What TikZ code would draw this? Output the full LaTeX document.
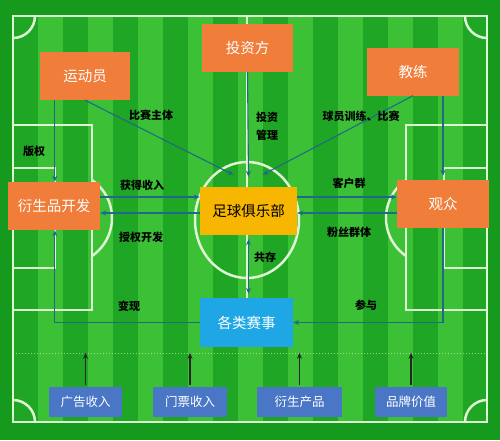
\documentclass[tikz,border=0pt]{standalone}
\usepackage{fontspec}
\newfontfamily\cjk{Noto Sans CJK SC}
\usetikzlibrary{calc,arrows.meta}
\definecolor{fieldA}{HTML}{1FA624}
\definecolor{fieldB}{HTML}{3CC036}
\definecolor{outergreen}{HTML}{169A1E}
\definecolor{chalk}{HTML}{DDF5D2}
\definecolor{orangefill}{HTML}{F07D3A}
\definecolor{goldfill}{HTML}{F7B600}
\definecolor{skyfill}{HTML}{1EA7E4}
\definecolor{bluefill}{HTML}{4A76C6}
\definecolor{linkcol}{HTML}{1F6A88}
\begin{document}
\begin{tikzpicture}[x=1pt,y=-1pt,
  chalkline/.style={draw=chalk,line width=2.5pt},
  obox/.style={fill=orangefill,text=white,inner sep=0pt,minimum height=48pt,font=\cjk\fontsize{14.5}{16}\selectfont},
  gbox/.style={fill=goldfill,text=black,inner sep=0pt,minimum height=48pt,font=\cjk\fontsize{14.5}{16}\selectfont},
  sbox/.style={fill=skyfill,text=white,inner sep=0pt,minimum height=49pt,font=\cjk\fontsize{14.5}{16}\selectfont},
  bluebtn/.style={fill=bluefill,text=white,inner sep=0pt,minimum height=30pt,font=\cjk\fontsize{12.5}{14}\selectfont},
  lbl/.style={text=black,inner sep=0pt,font=\cjk\bfseries\fontsize{11}{12}\selectfont},
  arr/.style={draw=linkcol,line width=1.1pt,-{Stealth[length=6pt,width=5pt]}},
  dblarr/.style={draw=linkcol,line width=1.1pt,{Stealth[length=6pt,width=5pt]}-{Stealth[length=6pt,width=5pt]}},
  barr/.style={draw=black!85,line width=1.2pt,-{Stealth[length=6pt,width=5pt]}}
]
\useasboundingbox (0,0) rectangle (500,440);
\fill[outergreen] (0,0) rectangle (500,440);
% stripes
\begin{scope}
\clip (13,16) rectangle (487,422);
\foreach \i in {0,...,18}{
  \ifodd\i\def\sc{fieldB}\else\def\sc{fieldA}\fi
  \fill[\sc] ({13+25*\i},16) rectangle ({13+25*(\i+1)},422);
}
\end{scope}
% field markings
\draw[chalkline] (13,16) rectangle (487,422);
\draw[chalkline] (247,16) -- (247,298);
\draw[chalkline] (247,220) ellipse [x radius=52, y radius=58];
\draw[chalkline] (13,125) rectangle (92,310);
\draw[chalkline] (13,168) rectangle (55,268);
\draw[chalkline] (406,125) rectangle (487,310);
\draw[chalkline] (444,168) rectangle (487,268);
\begin{scope}
\clip (92,100) rectangle (200,330);
\draw[chalkline] (66,218) circle [radius=46];
\end{scope}
\begin{scope}
\clip (300,100) rectangle (406,330);
\draw[chalkline] (432,218) circle [radius=46];
\end{scope}
\begin{scope}
\clip (13,16) rectangle (487,422);
\draw[chalkline] (13,16) circle [radius=22];
\draw[chalkline] (487,16) circle [radius=22];
\draw[chalkline] (13,422) circle [radius=22];
\draw[chalkline] (487,422) circle [radius=22];
\end{scope}
\draw[chalk,dotted,line width=1pt,opacity=.6] (13,353) -- (487,353);
% nodes
\node[obox,minimum width=90pt] (yd) at (85,76) {运动员};
\node[obox,minimum width=91pt] (tz) at (247.5,48) {投资方};
\node[obox,minimum width=92pt] (jl) at (413,71.5) {教练};
\node[obox,minimum width=92pt] (ys) at (54,206) {衍生品开发};
\node[gbox,minimum width=97pt] (club) at (248.5,211) {足球俱乐部};
\node[obox,minimum width=92pt] (gz) at (443,204) {观众};
\node[sbox,minimum width=93pt] (ss) at (246.5,322.5) {各类赛事};
\node[bluebtn,minimum width=73pt] (b1) at (85.5,402) {广告收入};
\node[bluebtn,minimum width=74pt] (b2) at (190,402) {门票收入};
\node[bluebtn,minimum width=85pt] (b3) at (299.5,402) {衍生产品};
\node[bluebtn,minimum width=72pt] (b4) at (411,402) {品牌价值};
% helper coordinates
\coordinate (p1) at ($(yd.south west)+(15,0)$);
\coordinate (p2) at ($(jl.south)+(30,0)$);
% connectors
\draw[arr] (yd.south) -- ($(club.north)+(-15,-12)$);
\draw[arr] (tz.south) -- ($(club.north)+(0,-10)$);
\draw[arr] (jl.south) -- ($(club.north)+(14,-12)$);
\draw[arr] ($(ys.east)+(0,-9)$) -- ($(club.west)+(0,-14)$);
\draw[arr] ($(club.west)+(0,2)$) -- ($(ys.east)+(0,7)$);
\draw[arr] ($(club.east)+(0,-14)$) -- ($(gz.west)+(0,-7)$);
\draw[arr] ($(gz.west)+(0,9)$) -- ($(club.east)+(0,2)$);
\draw[dblarr,shorten <=4pt,shorten >=4pt] (club.south) -- (club.south |- ss.north);
\draw[arr] (p1) -- (p1 |- ys.north);
\draw[arr] (ss.west) -| (p1 |- ys.south);
\draw[arr,shorten >=4pt] (p2) -- (p2 |- gz.north);
\draw[arr] (gz.south) |- (ss.east);
\draw[barr] ($(b1.north)+(0,-2)$) -- ($(b1.north)+(0,-34)$);
\draw[barr] ($(b2.north)+(0,-2)$) -- ($(b2.north)+(0,-34)$);
\draw[barr] ($(b3.north)+(0,-2)$) -- ($(b3.north)+(0,-34)$);
\draw[barr] ($(b4.north)+(0,-2)$) -- ($(b4.north)+(0,-34)$);
% labels
\node[lbl] (l1) at (151,115) {比赛主体};
\node[lbl] (l2) at (267,117) {投资};
\node[lbl] (l3) at (267,135) {管理};
\node[lbl] (l4) at (361,116) {球员训练、比赛};
\node[lbl] (l5) at (142,185) {获得收入};
\node[lbl] (l6) at (141,237) {授权开发};
\node[lbl] (l7) at (34,151) {版权};
\node[lbl] (l8) at (129,306) {变现};
\node[lbl] (l9) at (349,183) {客户群};
\node[lbl] (l10) at (349,232) {粉丝群体};
\node[lbl] (l11) at (265,257) {共存};
\node[lbl] (l12) at (366,305) {参与};
\end{tikzpicture}
\end{document}
